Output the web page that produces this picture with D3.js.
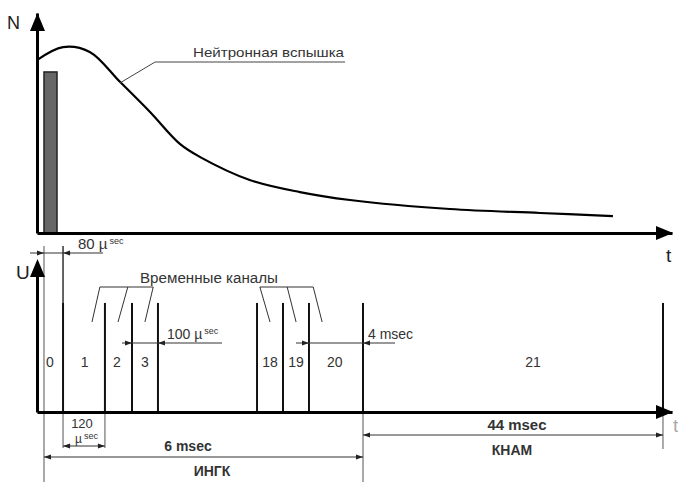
<!DOCTYPE html>
<html><head><meta charset="utf-8">
<script src="https://cdn.jsdelivr.net/npm/d3@7"></script>
<style>
body{margin:0;background:#fff}
svg{display:block}
text{font-family:"Liberation Sans",Arial,sans-serif;fill:#333}
</style>
</head><body>
<svg id="c" width="678" height="482"></svg>
<script>
// ---- Top panel: neutron flash N(t) (schematic units) ----
const flashT = [0, 4.1, 8.3, 13.1, 17.8, 22.5, 25.7, 33.5, 41.4, 49.3, 65, 79.2, 90.7];
const flashN = [78.6, 84.5, 82.3, 68.6, 55, 40.5, 34.5, 24.1, 18.6, 15.0, 10.9, 9.1, 7.7];
const pulseT = [1.1, 3.15];
const pulseN = 73.2;
const flashLabel = "Нейтронная вспышка";

// ---- Bottom panel: time channels (schematic units) ----
const startT = 1.1;
const boundaries = [4.1, 10.7, 14.96, 19.05, 34.65, 38.74, 42.83, 51.34, 98.58];
const gateU = 72.7;
const channelLabels = ["0", "1", "2", "3", "18", "19", "20", "21"];
const channelLabelT = [2.05, 7.5, 12.6, 17.0, 36.7, 40.8, 46.9, 78.1];
const bracketTop = [[9.9, 14.3, 18.3], [35.1, 39.4, 43.5]];
const bracketEnd = [[8.66, 12.76, 17.0], [36.7, 40.8, 44.9]];

const svg = d3.select("#c");
const x = d3.scaleLinear().domain([0, 100]).range([37, 672]);
const yN = d3.scaleLinear().domain([0, 100]).range([233, 13]);
const yU = d3.scaleLinear().domain([0, 100]).range([412, 262]);

function axisArrowH(y, tip) {
  svg.append("path").attr("d", `M${tip},${y} L${tip-17},${y-7} L${tip-17},${y+7} Z`).attr("fill", "#000");
}
function axisArrowV(xp, tip) {
  svg.append("path").attr("d", `M${xp},${tip} L${xp-7.5},${tip+18} L${xp+7.5},${tip+18} Z`).attr("fill", "#000");
}
function arrow(tip, y, dir) {
  svg.append("path").attr("d", `M${tip},${y} L${tip-dir*7},${y-2.6} L${tip-dir*7},${y+2.6} Z`).attr("fill", "#222");
}
function hline(x1, x2, y, w, c) {
  svg.append("line").attr("x1", x1).attr("x2", x2).attr("y1", y).attr("y2", y)
    .attr("stroke", c || "#333").attr("stroke-width", w || 1);
}
function vline(xp, y1, y2, w, c) {
  svg.append("line").attr("x1", xp).attr("x2", xp).attr("y1", y1).attr("y2", y2)
    .attr("stroke", c || "#333").attr("stroke-width", w || 1);
}
function txt(s, xp, y, o) {
  o = o || {};
  const t = svg.append("text").attr("x", xp).attr("y", y).text(s)
    .attr("font-size", o.size || 14).attr("text-anchor", o.anchor || "start");
  if (o.bold) t.attr("font-weight", "bold");
  if (o.len) t.attr("textLength", o.len).attr("lengthAdjust", "spacingAndGlyphs");
  if (o.fill) t.style("fill", o.fill);
  return t;
}
function micro(num, xp, y, size) {
  const t = svg.append("text").attr("x", xp).attr("y", y).attr("font-size", size || 14);
  t.append("tspan").text(num + " \u00b5");
  t.append("tspan").text("sec").attr("font-size", 9).attr("dy", -5).attr("dx", 2);
}

// ===== TOP PANEL =====
svg.append("rect")
  .attr("x", x(pulseT[0])).attr("width", x(pulseT[1]) - x(pulseT[0]))
  .attr("y", yN(pulseN)).attr("height", yN(0) - yN(pulseN))
  .attr("fill", "#676767").attr("stroke", "#222").attr("stroke-width", 1.5);

const flash = flashT.map((t, i) => [t, flashN[i]]);
svg.append("path").datum(flash)
  .attr("d", d3.line().x(d => x(d[0])).y(d => yN(d[1])).curve(d3.curveCatmullRom.alpha(0.5)))
  .attr("fill", "none").attr("stroke", "#000").attr("stroke-width", 2.2);

svg.append("g").attr("transform", `translate(0,${yN(0)})`)
  .call(d3.axisBottom(x).ticks(0).tickSizeOuter(0))
  .call(g => g.select(".domain").attr("stroke", "#000").attr("stroke-width", 3));
svg.append("g").attr("transform", `translate(${x(0)},0)`)
  .call(d3.axisLeft(yN).ticks(0).tickSizeOuter(0))
  .call(g => g.select(".domain").attr("stroke", "#000").attr("stroke-width", 3));
axisArrowH(yN(0), 673);
axisArrowV(x(0) + 0.5, 13);
txt("N", 7, 29, {size: 18, fill: "#222"});
txt("t", 666, 262, {size: 19, fill: "#222"});

svg.append("path").attr("d", `M${x(13.07)},${yN(68.2)} L${x(18.6)},62 L345,62`)
  .attr("fill", "none").attr("stroke", "#444").attr("stroke-width", 1);
txt(flashLabel, 193, 57, {size: 13.5, len: 151});

// ===== BOTTOM PANEL =====
vline(x(startT), 246, 482, 1, "#555");
vline(x(boundaries[0]), 246, yU(gateU), 1.5, "#333");
vline(x(boundaries[0]), yU(0), 448, 1, "#555");
vline(x(boundaries[1]), yU(0), 448, 1, "#555");
vline(x(boundaries[7]), yU(0), 482, 1, "#555");
vline(x(boundaries[8]), yU(0), 449, 1, "#555");

svg.append("g").selectAll("line").data(boundaries).join("line")
  .attr("x1", d => x(d)).attr("x2", d => x(d))
  .attr("y1", yU(gateU)).attr("y2", yU(0))
  .attr("stroke", "#111").attr("stroke-width", 2);

svg.append("g").selectAll("text").data(channelLabels).join("text")
  .attr("x", (d, i) => x(channelLabelT[i])).attr("y", 367)
  .attr("text-anchor", "middle").attr("font-size", 14).text(d => d);

svg.append("g").attr("transform", `translate(0,${yU(0)})`)
  .call(d3.axisBottom(x).ticks(0).tickSizeOuter(0))
  .call(g => g.select(".domain").attr("stroke", "#000").attr("stroke-width", 3));
svg.append("g").attr("transform", `translate(${x(0)},0)`)
  .call(d3.axisLeft(yU).ticks(0).tickSizeOuter(0))
  .call(g => g.select(".domain").attr("stroke", "#000").attr("stroke-width", 3));
axisArrowH(yU(0), 673);
axisArrowV(x(0) + 0.5, 259);
txt("U", 16, 279, {size: 19, fill: "#222"});
txt("t", 673, 432, {size: 19, fill: "#aaa"});

bracketTop.forEach((tops, k) => {
  hline(x(tops[0]), x(tops[2]), 287, 1, "#333");
  tops.forEach((t, i) => {
    svg.append("line").attr("x1", x(t)).attr("y1", 287)
      .attr("x2", x(bracketEnd[k][i])).attr("y2", 322)
      .attr("stroke", "#333").attr("stroke-width", 1);
  });
});
txt("Временные каналы", 209, 283, {size: 14, anchor: "middle", len: 138});

// 80 µsec
hline(30, 103, 253);
arrow(x(startT), 253, 1); arrow(x(boundaries[0]), 253, -1);
micro("80", 78, 249, 15);

// 100 µsec
hline(122, 222, 343);
arrow(x(boundaries[2]), 343, 1); arrow(x(boundaries[3]), 343, -1);
micro("100", 167, 339, 14);

// 4 msec
hline(296, 395, 343);
arrow(x(boundaries[6]), 343, 1); arrow(x(boundaries[7]), 343, -1);
txt("4 msec", 368, 339, {size: 14});

// 120 µsec
hline(x(boundaries[0]), x(boundaries[1]), 446);
arrow(x(boundaries[0]), 446, -1); arrow(x(boundaries[1]), 446, 1);
txt("120", 82, 428, {size: 13, anchor: "middle"});
(function(){
  const t = svg.append("text").attr("x", 75).attr("y", 443).attr("font-size", 12);
  t.append("tspan").text("\u00b5");
  t.append("tspan").text("sec").attr("font-size", 9).attr("dy", -4).attr("dx", 2);
})();

// 6 msec
hline(x(startT), x(boundaries[7]), 457);
arrow(x(startT), 457, -1); arrow(x(boundaries[7]), 457, 1);
txt("6 msec", 188, 451, {size: 14, bold: true, anchor: "middle"});
txt("ИНГК", 212, 476, {size: 14, bold: true, anchor: "middle"});

// 44 msec
hline(x(boundaries[7]), x(boundaries[8]), 435);
arrow(x(boundaries[7]), 435, -1); arrow(x(boundaries[8]), 435, 1);
txt("44 msec", 517, 430, {size: 14, bold: true, anchor: "middle", len: 59});
txt("КНАМ", 512, 455, {size: 14, bold: true, anchor: "middle"});
</script>
</body></html>
